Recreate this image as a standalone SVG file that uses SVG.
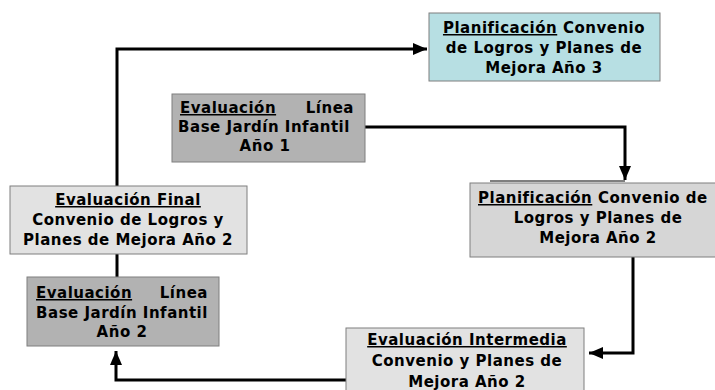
<svg xmlns="http://www.w3.org/2000/svg" width="715" height="390" viewBox="0 0 715 390">
<style>
.box{stroke:#7f7f7f;stroke-width:1}
.blue{fill:#b7dfe3}
.dark{fill:#b2b2b2}
.mid{fill:#d6d6d6}
.light{fill:#e2e2e2}
text{font-family:"DejaVu Sans","Verdana",sans-serif;font-weight:bold;font-size:15px;letter-spacing:0.5px;fill:#000}
.c{text-anchor:middle}
.r{text-anchor:end}
.u{text-decoration:underline}
.conn{fill:none;stroke:#000;stroke-width:3}
</style>
<defs>
<marker id="arr" markerUnits="userSpaceOnUse" markerWidth="16" markerHeight="14" refX="15" refY="7" orient="auto">
<path d="M1,1 L15,7 L1,13 Z" fill="#000"/>
</marker>
</defs>
<g id="connectors">
<path class="conn" d="M117,186 V49 H427" marker-end="url(#arr)"/>
<path class="conn" d="M365,127 H625 V180" marker-end="url(#arr)"/>
<path class="conn" d="M633,257 V353 H589" marker-end="url(#arr)"/>
<path class="conn" d="M346,380 H116 V351" marker-end="url(#arr)"/>
<path class="conn" d="M117,254 V277"/>
<path d="M490,181 H625" stroke="#000" stroke-width="1"/>
</g>
<g id="plan3">
<rect class="box blue" x="429" y="13" width="231" height="68"/>
<text x="544" y="33" class="c"><tspan class="u">Planificación</tspan> Convenio</text>
<text x="544" y="53" class="c">de Logros y Planes de</text>
<text x="544" y="73" class="c">Mejora Año 3</text>
</g>
<g id="eval1">
<rect class="box dark" x="172" y="94" width="193" height="68"/>
<text x="180" y="113"><tspan class="u">Evaluación</tspan></text>
<text x="354" y="113" class="r">Línea</text>
<text x="264" y="132" class="c">Base Jardín Infantil</text>
<text x="265" y="151" class="c">Año 1</text>
</g>
<g id="plan2">
<rect class="box mid" x="470" y="183" width="256" height="74"/>
<text x="478" y="203"><tspan class="u">Planificación</tspan> Convenio de</text>
<text x="598" y="223" class="c">Logros y Planes de</text>
<text x="598" y="243" class="c">Mejora Año 2</text>
</g>
<g id="evalFinal">
<rect class="box light" x="10" y="186" width="237" height="68"/>
<text x="128" y="205" class="c"><tspan class="u">Evaluación Final</tspan></text>
<text x="128" y="225" class="c">Convenio de Logros y</text>
<text x="128" y="245" class="c">Planes de Mejora Año 2</text>
</g>
<g id="eval2">
<rect class="box dark" x="27" y="277" width="192" height="69"/>
<text x="36" y="298"><tspan class="u">Evaluación</tspan></text>
<text x="208" y="298" class="r">Línea</text>
<text x="122" y="318" class="c">Base Jardín Infantil</text>
<text x="122" y="337" class="c">Año 2</text>
</g>
<g id="evalInter">
<rect class="box light" x="346" y="328" width="238" height="70"/>
<text x="467" y="345" class="c"><tspan class="u">Evaluación Intermedia</tspan></text>
<text x="467" y="366" class="c">Convenio y Planes de</text>
<text x="467" y="387" class="c">Mejora Año 2</text>
</g>
</svg>
